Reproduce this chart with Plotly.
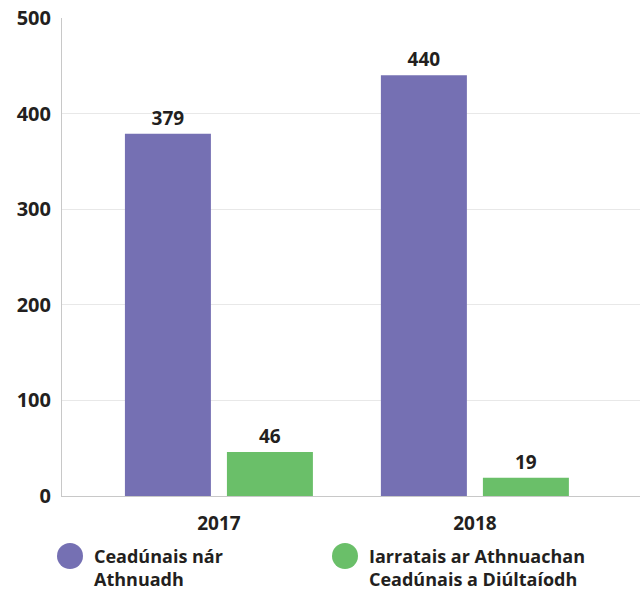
import plotly.graph_objects as go

years = ["2017", "2018"]
series_names = ["Ceadúnais nár<br>Athnuadh", "Iarratais ar Athnuachan<br>Ceadúnais a Diúltaíodh"]
not_renewed = [379, 440]
refused = [46, 19]
colors = ["#7570b3", "#6abf69"]

FONT = "Open Sans"
INK = "#231f20"
W, H = 640, 590
M = {"l": 62, "r": 0, "t": 18, "b": 94}
plot_w = W - M["l"] - M["r"]
plot_h = H - M["t"] - M["b"]


def px_x(x):
    return (x - M["l"]) / plot_w


def px_y(y):
    return (H - M["b"] - y) / plot_h


fig = go.Figure()
for name, vals, col in zip(series_names, [not_renewed, refused], colors):
    fig.add_trace(go.Bar(
        x=years, y=vals, name=name, marker={"color": col, "line": {"width": 0}},
        text=vals, textposition="outside", cliponaxis=False,
        textfont={"family": FONT, "size": 19, "color": INK, "weight": "bold"},
        showlegend=False,
    ))

# legend drawn by hand so the circles can be large
for i, (name, col) in enumerate(zip(series_names, colors)):
    cx = 70 + i * 275
    cy = 556
    r = 13
    fig.add_shape(
        type="circle", xref="paper", yref="paper",
        x0=px_x(cx - r), x1=px_x(cx + r), y0=px_y(cy + r), y1=px_y(cy - r),
        fillcolor=col, line={"width": 0},
    )
    fig.add_annotation(
        text=name, xref="paper", yref="paper", x=px_x(cx + 22), y=px_y(cy - 14),
        xanchor="left", yanchor="top", align="left", showarrow=False,
        font={"family": FONT, "size": 18, "color": INK, "weight": "bold"},
    )

fig.update_layout(
    width=W, height=H, margin=M,
    plot_bgcolor="white", paper_bgcolor="white",
    bargap=0.203, bargroupgap=0.157,
    font={"family": FONT, "color": INK},
    xaxis={
        "type": "category", "range": [-0.613, 1.645], "automargin": False,
        "showline": True, "linecolor": "#c8c8c8", "linewidth": 1,
        "ticks": "outside", "ticklen": 10, "tickcolor": "rgba(0,0,0,0)",
        "tickfont": {"family": FONT, "size": 19, "color": INK, "weight": "bold"},
    },
    yaxis={
        "range": [0, 500], "dtick": 100, "ticklabeloverflow": "allow",
        "automargin": False,
        "showgrid": True, "gridcolor": "#e8e8e8", "zeroline": False,
        "showline": True, "linecolor": "#c8c8c8", "linewidth": 1,
        "ticks": "outside", "ticklen": 6, "tickcolor": "rgba(0,0,0,0)",
        "tickfont": {"family": FONT, "size": 20, "color": INK, "weight": "bold"},
    },
)

# drop the browser's default 8px body margin so the figure fills the window
fig.write_html(
    "out.html",
    config={"displayModeBar": False},
    post_script="document.body.style.margin = '0';",
)
